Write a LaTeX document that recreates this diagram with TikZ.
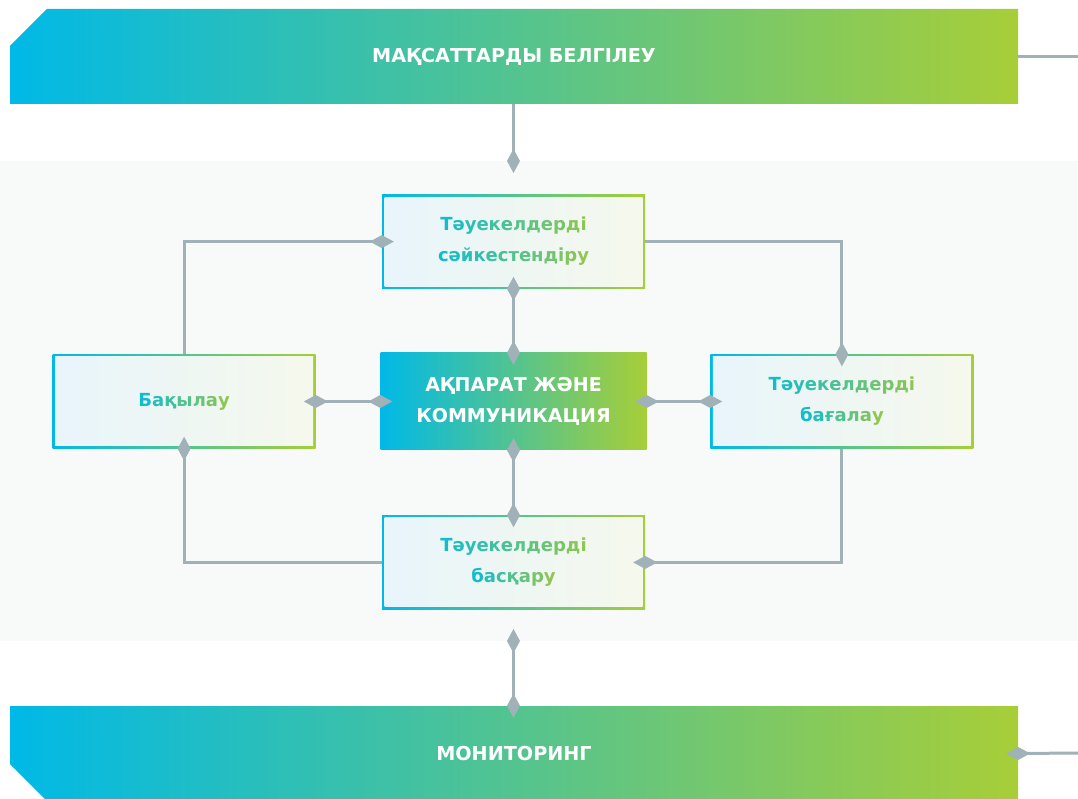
\documentclass[tikz,border=0pt]{standalone}
\usepackage{fontspec}
\setmainfont{DejaVu Sans}
\usetikzlibrary{positioning,arrows.meta}

\definecolor{brandcyan}{HTML}{00B9E7}
\definecolor{brandgreen}{HTML}{A7CE38}
\definecolor{textteal}{HTML}{12BDCB}
\definecolor{textgreen}{HTML}{8FC653}
\definecolor{linkgray}{HTML}{A0B1B7}
\definecolor{panelgray}{HTML}{F8F9F9}
\definecolor{boxleft}{HTML}{E8F5FB}
\definecolor{boxright}{HTML}{F5F8EC}

\newcommand{\boxfont}{\fontsize{18}{31}\selectfont\bfseries}
\newcommand{\hubfont}{\fontsize{19}{31}\selectfont\bfseries}
\newcommand{\bannerfont}{\fontsize{19.2}{23}\selectfont\bfseries}

% colour each letter of one line from teal to green
\ExplSyntaxOn
\int_new:N \l_grad_total_int
\int_new:N \l_grad_index_int
\tl_new:N \l_grad_color_tl
\NewDocumentCommand \gradline { m }
  {
    \int_set:Nn \l_grad_total_int { \tl_count:n {#1} }
    \int_zero:N \l_grad_index_int
    \tl_map_inline:nn {#1}
      {
        \tl_set:Nx \l_grad_color_tl
          { textgreen! \int_eval:n { 100 * \l_grad_index_int / ( \l_grad_total_int - 1 ) } !textteal }
        \exp_args:NV \textcolor \l_grad_color_tl {##1}
        \int_incr:N \l_grad_index_int
      }
  }
\ExplSyntaxOff

\begin{document}
\begin{tikzpicture}[x=1pt, y=1pt, >={Diamond[length=24pt, width=13pt]},
    stepbox/.style={rectangle, minimum width=263pt, minimum height=94pt, inner sep=0pt,
      left color=brandcyan, right color=brandgreen, font=\boxfont, align=center,
      path picture={\shade[left color=boxleft, right color=boxright]
        ([shift={(2.5pt,2.5pt)}]path picture bounding box.south west) rectangle
        ([shift={(-2.5pt,-2.5pt)}]path picture bounding box.north east);}},
    hubbox/.style={rectangle, minimum width=266pt, minimum height=97pt, inner sep=0pt,
      left color=brandcyan, right color=brandgreen, text=white, font=\hubfont, align=center},
    banner/.style={rectangle, minimum width=1008pt, minimum height=95pt, inner sep=0pt,
      text=white, font=\bannerfont},
    link/.style={draw=linkgray, line width=3pt},
    both/.style={link, <->, shorten <=-12pt, shorten >=-12pt},
    into/.style={link, ->, shorten >=-12pt}]
  \useasboundingbox (0,0) rectangle (1078,798);

  % background band and the two banners
  \fill[panelgray] (0,157) rectangle (1078,637);
  \shade[left color=brandcyan, right color=brandgreen]
    (10,752) -- (47,789) -- (1018,789) -- (1018,694) -- (10,694) -- cycle;
  \shade[left color=brandcyan, right color=brandgreen]
    (10,92) -- (1018,92) -- (1018,-3) -- (47,-3) -- (10,34) -- cycle;
  \node[banner] (goals) at (514,741.5) {МАҚСАТТАРДЫ БЕЛГІЛЕУ};
  \node[banner] (monitor) at (514,44.5) {МОНИТОРИНГ};

  % boxes
  \node[hubbox] (info) at (513.5,396.5) {АҚПАРАТ ЖӘНЕ\\КОММУНИКАЦИЯ};
  \node[stepbox, above=64pt of info] (ident) {\gradline{Тәуекелдерді}\\\gradline{сәйкестендіру}};
  \node[stepbox, below=65pt of info] (manage) {\gradline{Тәуекелдерді}\\\gradline{басқару}};
  \node[stepbox, left=64.5pt of info] (control) {\gradline{Бақылау}};
  \node[stepbox, right=63.5pt of info] (assess) {\gradline{Тәуекелдерді}\\\gradline{бағалау}};

  \coordinate (paneltop) at (513.5,637);
  \coordinate (panelbot) at (513.5,157);
  \coordinate (feedout) at (1080,741.5);
  \coordinate (feedin) at (1080,45);

  % connectors
  \draw[into] (paneltop |- goals.south) -- (paneltop);
  \draw[both] (ident) -- (info);
  \draw[both] (info) -- (manage);
  \draw[both] (control) -- (info);
  \draw[both] (info) -- (assess);
  \draw[into] (control.north) |- (ident.west);
  \draw[into] (ident.east) -| (assess.north);
  \draw[into] (assess.south) |- (manage.east);
  \draw[into] (manage.west) -| (control.south);
  \draw[both] (panelbot) -- (panelbot |- monitor.north);
  \draw[into] (feedin) -- (monitor.east);
  \draw[link] (goals.east) -- (feedout);
\end{tikzpicture}
\end{document}
